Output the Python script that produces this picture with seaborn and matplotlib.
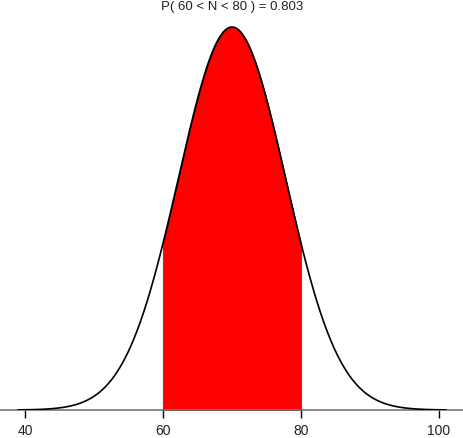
import numpy as np
import pandas as pd
import matplotlib
matplotlib.use("Agg")
import matplotlib.pyplot as plt
import seaborn as sns

# Distribution parameters and shaded interval
mu = 70
sigma = 7.75
lower = 60
upper = 80
prob_label = "P( 60 < N < 80 ) = 0.803"
tick_values = [40, 60, 80, 100]
tick_labels = ["40", "60", "80", "100"]

sns.set_theme(style="white")
plt.rcParams['font.family'] = ['Liberation Sans', 'DejaVu Sans']

W, H = 464, 438
fig = plt.figure(figsize=(W / 100, H / 100), dpi=100)
ax = fig.add_axes([0, 28 / H, 1, (H - 28) / H])

x = np.linspace(mu - 4 * sigma, mu + 4 * sigma, 600)
dens = np.exp(-0.5 * ((x - mu) / sigma) ** 2) / (sigma * np.sqrt(2 * np.pi))
df = pd.DataFrame({"x": x, "density": dens})

xs = np.linspace(lower, upper, 300)
ds = np.exp(-0.5 * ((xs - mu) / sigma) ** 2) / (sigma * np.sqrt(2 * np.pi))
ax.fill_between(xs, 0, ds, color="#ff0000", edgecolor="black", linewidth=0.6, zorder=2)
ax.vlines([lower, upper], 0, [ds[0], ds[-1]], color="#555555", linewidth=0.8, zorder=3)

sns.lineplot(data=df, x="x", y="density", color="black", linewidth=1.2, ax=ax, zorder=4)

peak = dens.max()
# pixel mapping: base at 410 px from top, peak at 27 px from top
span_px = 410 - 27
per_px = peak / span_px
ax.set_ylim(0, peak + 27 * per_px)
ax.set_xlim(40 - 25 / 6.9, 40 + (W - 25) / 6.9)

for s in ["top", "left", "right"]:
    ax.spines[s].set_visible(False)
ax.spines["bottom"].set_color("#777777")
ax.spines["bottom"].set_linewidth(1.2)
ax.set_yticks([])
ax.set_xticks(tick_values)
ax.set_xticklabels(tick_labels)
ax.tick_params(axis="x", bottom=True, direction="out", length=6, width=1, color="black",
               labelsize=10, pad=4, labelcolor="#222222")
ax.set_xlabel("")
ax.set_ylabel("")

fig.text(0.5, 1 - 7 / H, prob_label, ha="center", va="center", fontsize=9.5, color="#222222")

fig.savefig("out.png", dpi=100)
